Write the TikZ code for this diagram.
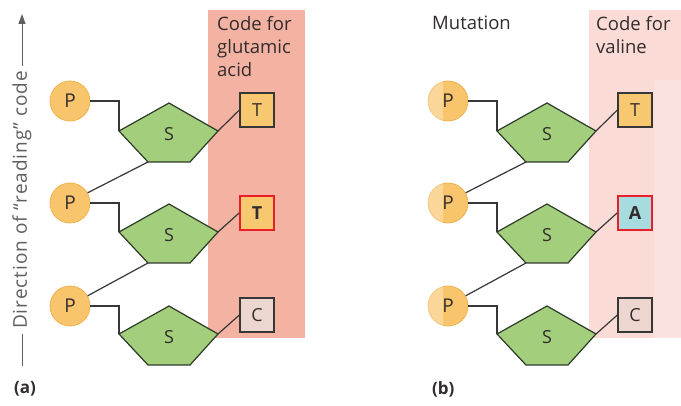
\documentclass[tikz,border=0pt]{standalone}
\usepackage{fontspec}
\setmainfont{Open Sans}
\usetikzlibrary{arrows.meta}
\definecolor{txt}{RGB}{50,45,45}
\definecolor{dirgray}{RGB}{95,95,95}
\definecolor{pinka}{RGB}{243,178,162}
\definecolor{pinkb}{RGB}{251,219,213}
\definecolor{pinkc}{RGB}{252,226,222}
\definecolor{porange}{RGB}{249,197,108}
\definecolor{pedge}{RGB}{240,178,80}
\definecolor{sgreen}{RGB}{163,206,124}
\definecolor{sedge}{RGB}{45,58,40}
\definecolor{tyellow}{RGB}{248,200,112}
\definecolor{cpink}{RGB}{238,214,208}
\definecolor{acyan}{RGB}{166,219,224}
\definecolor{mutred}{RGB}{232,30,40}
\definecolor{linec}{RGB}{55,55,55}
\newcommand\mystrand[2]{%
  \foreach \i/\py/\sy in {1/101/133,2/203/234,3/306/336}{
    \node[pcirc] (#1p\i) at (70+#2,\py) {P};
    \coordinate (#1l\i) at (119+#2,\sy-2);
    \coordinate (#1t\i) at (169+#2,\sy-30);
    \coordinate (#1r\i) at (218+#2,\sy-2);
    \coordinate (#1br\i) at (190+#2,\sy+29);
    \coordinate (#1bl\i) at (148+#2,\sy+29);
    \draw[sugar] (#1l\i) -- (#1t\i) -- (#1r\i) -- (#1br\i) -- (#1bl\i) -- cycle;
    \node[inlabel] (#1s\i) at (169+#2,\sy+1) {S};
    \draw[conn] (#1p\i.east) -| (#1l\i);
  }
  \draw[conn] (#1bl1) -- (#1p2.30);
  \draw[conn] (#1bl2) -- (#1p3.30);
}
\begin{document}
\begin{tikzpicture}[x=1pt,y=-1pt,
  lab/.style={font=\fontsize{18.5}{23}\selectfont, text=txt, anchor=north west, align=left, inner sep=0},
  pcirc/.style={circle, fill=porange, draw=pedge, line width=0.8pt, minimum size=40pt, inner sep=0, font=\fontsize{19}{19}\selectfont, text=txt},
  inlabel/.style={font=\fontsize{18}{18}\selectfont, text=txt, inner sep=0},
  sugar/.style={fill=sgreen, draw=sedge, line width=1.2pt, line join=miter},
  conn/.style={draw=linec, line width=1.2pt},
  basebox/.style={rectangle, draw=linec, line width=1.2pt, minimum size=34pt, inner sep=0, font=\fontsize{18}{18}\selectfont, text=txt},
  mutbox/.style={basebox, draw=mutred, line width=1.8pt, font=\fontsize{18}{18}\selectfont\bfseries},
  panel/.style={font=\fontsize{17}{17}\selectfont\bfseries, text=txt, anchor=north west, inner sep=0}
]
\useasboundingbox (0,0) rectangle (681,406);
\fill[white] (0,0) rectangle (681,406);
% pink columns
\fill[pinka] (208,10) rectangle (305,338);
\fill[pinkb] (589,10) rectangle (681,338);
% labels
\node[lab] (codea) at (217,16) {Code for\\glutamic\\acid};
\node[lab] (mut) at (432,16) {Mutation};
\node[lab] (codeb) at (596,16) {Code for\\valine};
% strands
\mystrand{a}{0}
\mystrand{b}{378}
% bases (a)
\node[basebox, fill=tyellow] (ab1) at (257,110) {T};
\node[mutbox, fill=tyellow] (ab2) at (257,213) {T};
\node[basebox, fill=cpink] (ab3) at (257,315) {C};
\draw[conn] (ar1) -- (ab1.west);
\draw[conn] (ar2) -- (ab2.west);
\draw[conn] (ar3) -- (ab3.west);
% bases (b)
\node[basebox, fill=tyellow] (bb1) at (635,110) {T};
\node[mutbox, fill=acyan] (bb2) at (635,213) {A};
\node[basebox, fill=cpink] (bb3) at (635,315) {C};
\draw[conn] (br1) -- (bb1.west);
\draw[conn] (br2) -- (bb2.west);
\draw[conn] (br3) -- (bb3.west);
% image edge artefacts of panel (b)
\fill[pinkc] (653.5,80) rectangle (681,338);
\fill[white, opacity=0.3] (405,70) rectangle (443,335);
% direction arrow
\node[rotate=90, font=\fontsize{19}{19}\selectfont\addfontfeatures{LetterSpace=5}, text=dirgray, inner sep=5pt] (dir) at (22,200) {Direction of \textquotedblleft reading\textquotedblright\ code};
\coordinate (dtop) at (22,14);
\coordinate (dbot) at (22,366);
\draw[draw=dirgray, line width=1pt, -{Triangle[length=10pt,width=7pt]}] (dir.east) -- (dtop);
\draw[draw=dirgray, line width=1pt] (dir.west) -- (dbot);
% panel letters
\node[panel] (pa) at (14,381) {(a)};
\node[panel] (pb) at (432,381) {(b)};
\end{tikzpicture}
\end{document}
